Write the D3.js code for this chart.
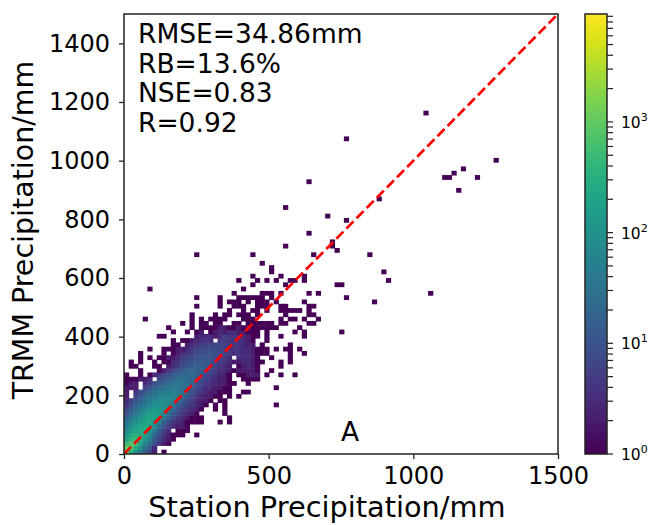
<!DOCTYPE html>
<html>
<head>
<meta charset="utf-8">
<script src="https://cdn.jsdelivr.net/npm/d3@7"></script>
<style>
  html, body { margin: 0; padding: 0; background: #fff; }
  text { font-family: "DejaVu Sans", sans-serif; fill: #000; }
</style>
</head>
<body>
<div class="d3Chart"></div>
<script>
// hist2d counts, rowCounts[j][i] = cell count, 0 = empty
var rowCounts = [
  [1500,300,100,40,15,6,2,0,1],
  [1000,800,300,100,30,12,3],
  [500,800,600,200,70,25,9,4,2,1],
  [200,400,500,350,120,40,14,6,3,2,1],
  [120,250,350,300,180,70,22,9,4,2,1,1,1,0,0,1],
  [70,150,220,280,250,130,45,14,6,3,0,1,1,1],
  [45,90,150,220,260,190,90,30,10,5,3,2,2,1],
  [30,55,100,160,220,230,140,55,18,8,4,3,2,1,1,1,1,0,0,0,1,0,1],
  [18,36,60,100,160,210,180,100,40,15,8,4,3,2,1,1,1,0,0,0,0,0,1],
  [10,22,40,65,110,150,170,130,65,28,12,7,4,3,2,1,0,0,0,0,0,1],
  [7,14,25,42,70,110,140,130,90,50,22,10,6,4,3,2,1,0,0,1,0,1],
  [4,9,16,28,45,70,95,110,100,70,38,18,9,6,4,3,2,1,0,1,0,1,0,0,0,0,0,0,0,0,0,0,1],
  [3,6,11,18,30,45,65,85,90,80,55,30,14,8,5,3,2,2,1,0,1,1],
  [2,0,7,12,20,30,42,55,65,70,60,42,24,12,7,4,3,2,2,1,1,0,1,0,1],
  [2,0,4,8,13,20,30,38,45,50,55,45,30,18,10,6,4,3,2,2,1,1,1,0,0,1,1],
  [2,2,2,0,7,11,16,22,30,36,40,40,32,22,13,8,5,3,3,2,2,1,1,0,0,0,0,0,0,0,0,0,1],
  [1,2,2,0,3,5,9,13,18,24,30,34,32,26,16,10,7,4,3,3,2,2,1,1,0,0,1],
  [1,1,1,2,2,3,0,8,12,16,20,26,28,26,20,12,8,6,4,3,2,2,1,0,0,1,1,1,1],
  [1,0,0,1,0,1,3,4,7,11,14,18,22,24,22,16,11,7,5,4,3,2,1,0,1,1,2,2,2,0,1,0,0,1,0,0,1],
  [0,0,0,1,0,0,0,1,2,4,7,10,14,18,20,18,13,9,7,5,3,3,2,1,2,2,2,2,1,0,0,1],
  [0,1,1,0,0,0,1,1,0,2,3,5,8,11,14,16,16,12,9,6,4,3,2,0,1,2,3,2,1,0,0,0,0,1],
  [0,1,0,1,0,0,1,0,1,1,3,4,6,8,10,13,14,13,10,7,5,4,3,2,2,3,3,2,1,1,0,0,0,1,0,1],
  [0,0,0,1,0,1,0,1,1,2,2,3,5,7,8,10,11,12,10,8,6,5,3,0,3,3,3,2,1,0,0,1,0,0,0,1],
  [0,0,0,1,0,0,0,0,1,0,1,2,3,4,5,7,8,9,10,9,7,6,5,3,4,3,3,2,1,1,1,0,0,0,0,1,0,0,1],
  [0,0,0,0,0,1,0,0,1,1,1,2,2,3,5,7,8,9,8,9,7,5,4,4,4,3,3,2,1,1,1,0,1,0,1,1,0,1],
  [0,0,0,0,0,0,0,0,0,0,1,1,0,2,3,4,5,6,7,7,7,6,5,4,4,3,2,2,0,1,0,0,0,0,0,1],
  [0,0,0,0,0,0,0,0,0,0,1,0,1,1,2,3,3,4,3,0,4,5,4,4,4,3,2,1,0,0,1],
  [0,0,0,0,0,0,0,1,1,0,0,0,0,0,0,2,3,3,3,2,3,5,4,4,3,3,2,1,1,0,1,0,0,1,0,0,0,0,1],
  [0,0,0,0,0,0,0,0,0,0,1,0,0,1,0,1,2,0,1,2,3,2,3,3,2,2,1,1,1,0,1,0,0,0,0,0,1,0,1,0,0,0,0,0,0,0,1],
  [0,0,0,0,0,0,0,0,0,1,0,0,0,0,1,0,1,1,1,1,2,2,1,1,2,1,2,1,1,1,1,1,1,0,0,0,0,1]
];

// cells with a count of one above rowCounts, by row then columns
var sparseRows = [30,31,32,33,34,35,36,37,38,39,40,41,42,43,44,46,47,48,49,51,54,55,57,59,61,63,64,65,66,68,73,79];
var sparseCols = [
  [12,14,16,17,19,20,23,24,26,27,28,29,30,31,33,34,39,40],
  [4,14,16,18,19,20,21,25,26,27,33,35,36,38,41],
  [14,19,21,22,24,25,26,28,34,39,40],
  [22,25,27,28,30,33,34,35,36,37,39],
  [15,20,23,24,25,28,29,30,33,34,39,40],
  [20,22,23,24,26,28,29,30,32,38,53],
  [15,20,24,25,26,27,28,29,31,47],
  [23,29,30,31,33,39,41,65],
  [5,25],
  [27,34,45,46],
  [24,28,30,32,35,36,38,56],
  [27,33,38],
  [31,55],
  [31],
  [29],
  [15,27,40,52],
  [45],
  [34,44],
  [44],
  [39],
  [47],
  [43],
  [34],
  [54],
  [71],
  [39],
  [68,69,75],
  [70],
  [72],
  [79],
  [47],
  [64]
];

var xTicks = [0, 500, 1000, 1500];
var yTicks = [0, 200, 400, 600, 800, 1000, 1200, 1400];
var cbarMajor = [1, 10, 100, 1000];
var cbarMinor = [2,3,4,5,6,7,8,9,20,30,40,50,60,70,80,90,200,300,400,500,600,700,800,900,2000,3000,4000,5000,6000,7000,8000,9000];
var statLines = ["RMSE=34.86mm", "RB=13.6%", "NSE=0.83", "R=0.92"];

var binW = 16.17;
var binH = 14.63;
var axisMax = 1500;
var countMax = 9440;

var width = 650;
var height = 525;
var plot = { left: 124, right: 558, top: 14, bottom: 454 };
var bar = { left: 585, right: 607 };

var svg = d3
  .select(".d3Chart")
  .append("svg")
  .attr("width", width)
  .attr("height", height)
  .style("display", "block");

var x = d3.scaleLinear().domain([0, axisMax]).range([plot.left, plot.right]);
var y = d3.scaleLinear().domain([0, axisMax]).range([plot.bottom, plot.top]);
var color = d3.scaleSequentialLog(d3.interpolateViridis).domain([1, countMax]);
var cbarY = d3.scaleLog().domain([1, countMax]).range([plot.bottom, plot.top]);

// 把計數表攤平成格子
var cells = [];
rowCounts.forEach((counts, j) => {
  counts.forEach((count, i) => {
    if (count > 0) cells.push({ i: i, j: j, count: count });
  });
});
sparseRows.forEach((j, k) => {
  sparseCols[k].forEach((i) => cells.push({ i: i, j: j, count: 1 }));
});

var defs = svg.append("defs");
defs
  .append("filter")
  .attr("id", "soft")
  .attr("x", "-5%")
  .attr("y", "-5%")
  .attr("width", "110%")
  .attr("height", "110%")
  .append("feGaussianBlur")
  .attr("stdDeviation", 0.35);

defs
  .append("clipPath")
  .attr("id", "plotClip")
  .append("rect")
  .attr("x", plot.left)
  .attr("y", plot.top)
  .attr("width", plot.right - plot.left)
  .attr("height", plot.bottom - plot.top);

svg
  .append("g")
  .attr("clip-path", "url(#plotClip)")
  .append("g")
  .attr("filter", "url(#soft)")
  .selectAll("rect")
  .data(cells)
  .enter()
  .append("rect")
  .attr("x", (d) => x(d.i * binW))
  .attr("y", (d) => y((d.j + 1) * binH))
  .attr("width", x(binW) - x(0) + 0.5)
  .attr("height", y(0) - y(binH) + 0.5)
  .attr("fill", (d) => color(d.count));

// 1:1 線
svg
  .append("line")
  .attr("clip-path", "url(#plotClip)")
  .attr("x1", x(0))
  .attr("y1", y(0))
  .attr("x2", x(axisMax))
  .attr("y2", y(axisMax))
  .attr("stroke", "#ff0000")
  .attr("stroke-width", 2.7)
  .attr("stroke-dasharray", "10,4.4");

// 座標軸
var xAxis = svg
  .append("g")
  .attr("transform", `translate(0, ${plot.bottom})`)
  .call(d3.axisBottom(x).tickValues(xTicks).tickFormat(d3.format("d")).tickSize(5).tickPadding(8));
var yAxis = svg
  .append("g")
  .attr("transform", `translate(${plot.left}, 0)`)
  .call(d3.axisLeft(y).tickValues(yTicks).tickFormat(d3.format("d")).tickSize(5).tickPadding(9));

[xAxis, yAxis].forEach((a) => {
  a.attr("font-family", null).attr("font-size", null);
  a.select(".domain").remove();
  a.selectAll("line").attr("stroke", "#222").attr("stroke-width", 1.3);
  a.selectAll("text").style("font-size", "24px");
});

svg
  .append("rect")
  .attr("x", plot.left)
  .attr("y", plot.top)
  .attr("width", plot.right - plot.left)
  .attr("height", plot.bottom - plot.top)
  .attr("fill", "none")
  .attr("stroke", "#222")
  .attr("stroke-width", 1.5);

svg
  .append("text")
  .attr("x", 327)
  .attr("y", 517)
  .attr("text-anchor", "middle")
  .style("font-size", "28.8px")
  .text("Station Precipitation/mm");

svg
  .append("text")
  .attr("transform", "translate(33, 230) rotate(-90)")
  .attr("text-anchor", "middle")
  .style("font-size", "28.5px")
  .text("TRMM Precipitation/mm");

// 統計標註
svg
  .selectAll(".stat")
  .data(statLines)
  .enter()
  .append("text")
  .attr("class", "stat")
  .attr("x", plot.left + 14)
  .attr("y", (d, i) => 43 + i * 29.6)
  .style("font-size", "26.5px")
  .text((d) => d);

svg
  .append("text")
  .attr("x", 341)
  .attr("y", 441)
  .style("font-size", "26.5px")
  .text("A");

// 色階條
var grad = defs
  .append("linearGradient")
  .attr("id", "cbarGrad")
  .attr("x1", 0)
  .attr("y1", 1)
  .attr("x2", 0)
  .attr("y2", 0);
d3.range(0, 1.001, 0.05).forEach((t) => {
  grad
    .append("stop")
    .attr("offset", t)
    .attr("stop-color", d3.interpolateViridis(t));
});

svg
  .append("rect")
  .attr("x", bar.left)
  .attr("y", plot.top)
  .attr("width", bar.right - bar.left)
  .attr("height", plot.bottom - plot.top)
  .attr("fill", "url(#cbarGrad)")
  .attr("stroke", "#222")
  .attr("stroke-width", 1.5);

var cbarAxis = svg.append("g").attr("transform", `translate(${bar.right}, 0)`);
cbarAxis
  .selectAll("line")
  .data(cbarMajor.concat(cbarMinor))
  .enter()
  .append("line")
  .attr("x1", 0)
  .attr("x2", 6)
  .attr("y1", (d) => cbarY(d))
  .attr("y2", (d) => cbarY(d))
  .attr("stroke", "#222")
  .attr("stroke-width", 1.2);

var cbarLabels = cbarAxis
  .selectAll("text")
  .data(cbarMajor)
  .enter()
  .append("text")
  .attr("x", 14)
  .attr("y", (d) => cbarY(d) + 6)
  .style("font-size", "15.5px");
cbarLabels.append("tspan").text("10");
cbarLabels
  .append("tspan")
  .attr("dy", -7)
  .style("font-size", "11px")
  .text((d) => Math.round(Math.log10(d)));
</script>
</body>
</html>
